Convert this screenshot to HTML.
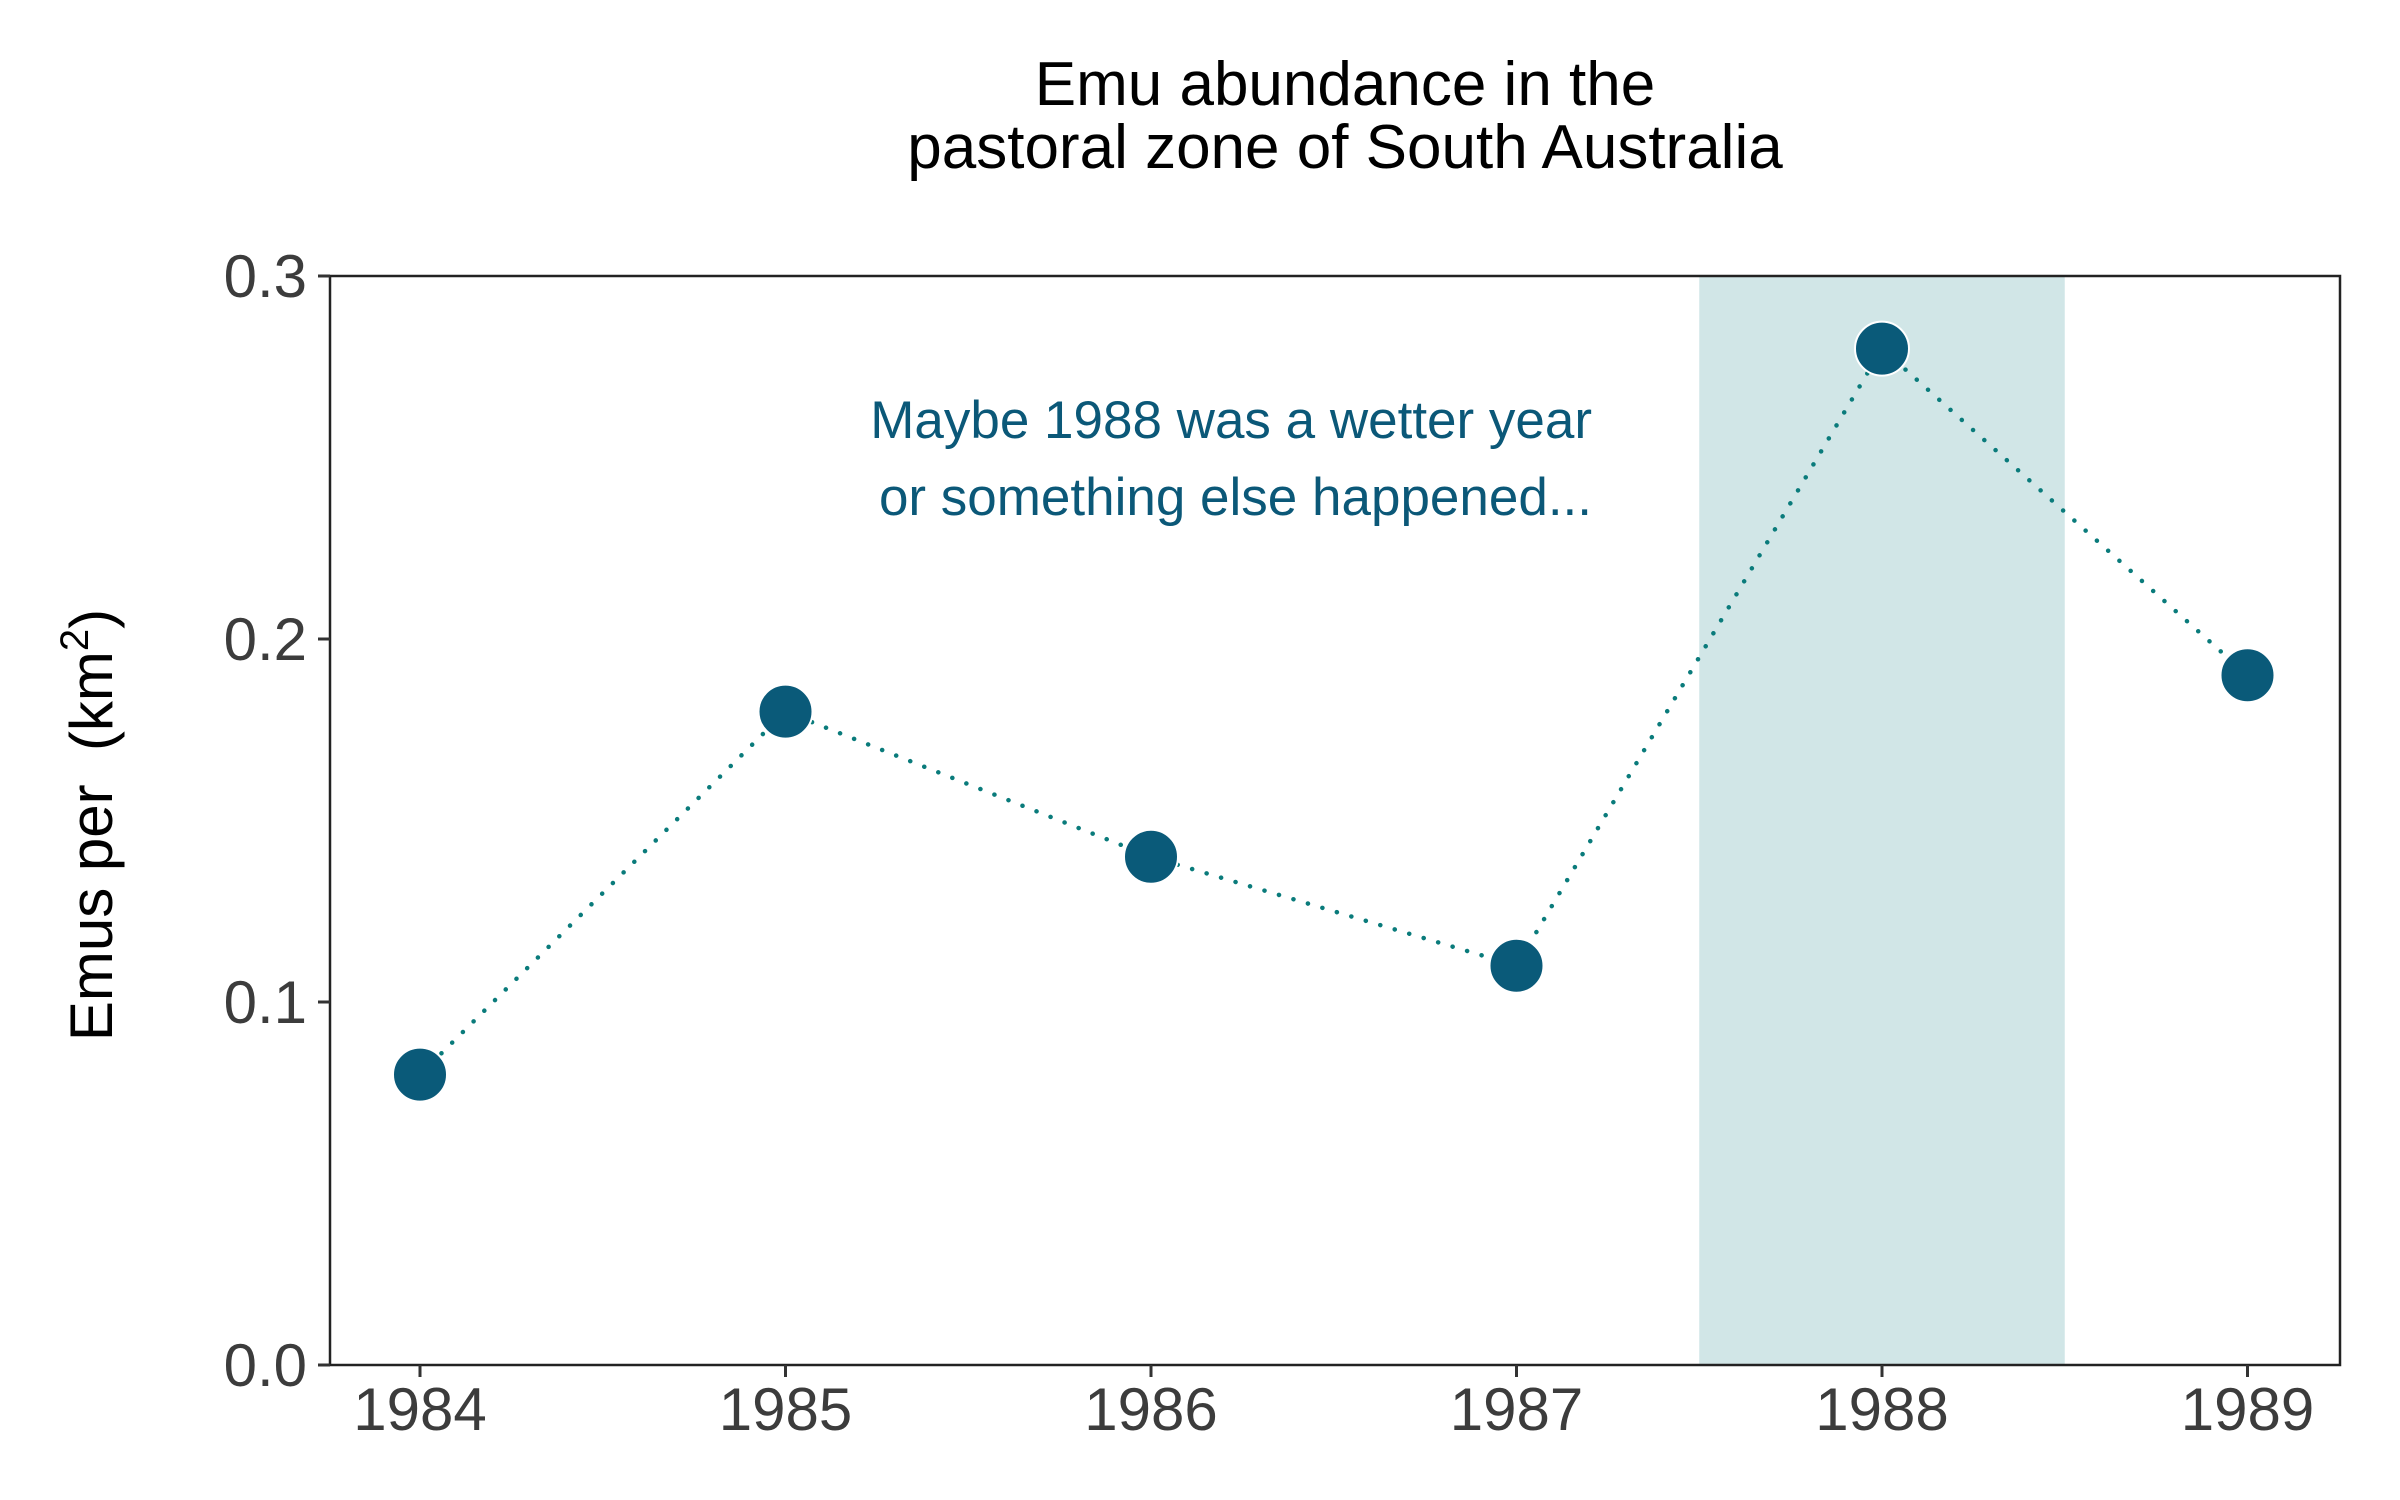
<!DOCTYPE html>
<html><head><meta charset="utf-8"><style>
html,body{margin:0;padding:0;background:#fff;}
svg{display:block;font-family:"Liberation Sans",Arial,sans-serif;}
</style></head><body>
<svg id="chart" width="2400" height="1500" viewBox="0 0 2400 1500" xmlns="http://www.w3.org/2000/svg">
<rect width="2400" height="1500" fill="#fff"/>
<g id="title" font-size="62" fill="#000" text-anchor="middle">
<text x="1345" y="105">Emu abundance in the</text>
<text x="1345" y="168">pastoral zone of South Australia</text>
</g>
<g id="plot"></g>
<text transform="translate(112,825) rotate(-90)" text-anchor="middle" font-size="60" fill="#000">Emus per&#160;&#160;(km<tspan font-size="40" dy="-24">2</tspan><tspan dy="24">)</tspan></text>
<g font-size="53" fill="#0b5878" text-anchor="end">
<text x="1592" y="438">Maybe 1988 was a wetter year</text>
<text x="1592" y="515">or something else happened...</text>
</g>
</svg>
<script>
const years = [1984, 1985, 1986, 1987, 1988, 1989];
const emuDensity = [0.08, 0.18, 0.14, 0.11, 0.28, 0.19];
const yTicks = [0.0, 0.1, 0.2, 0.3];
const yTickLabels = ["0.0", "0.1", "0.2", "0.3"];
const highlightRange = [1987.5, 1988.5];

const NS = "http://www.w3.org/2000/svg";
const L = 330, R = 2340, T = 276, B = 1365;
const x = v => 420 + (v - 1984) * 365.5;
const y = v => B - (v / 0.3) * (B - T);
const plot = document.getElementById('plot');
function mk(tag, attrs, parent) {
  const e = document.createElementNS(NS, tag);
  for (const k in attrs) e.setAttribute(k, attrs[k]);
  (parent || plot).appendChild(e);
  return e;
}
const band = mk('rect', {x: x(highlightRange[0]), y: T, width: x(highlightRange[1]) - x(highlightRange[0]), height: B - T, fill: '#d1e6e7'});



const frame = mk('rect', {x: L, y: T, width: R - L, height: B - T, fill: 'none', stroke: '#222', 'stroke-width': 2.5});



yTicks.forEach((t, i) => {
  const tk = mk('line', {x1: L - 12, x2: L, y1: y(t), y2: y(t), stroke: '#333', 'stroke-width': 3});
  
  
  const lb = mk('text', {x: 307, y: y(t) + 21, 'text-anchor': 'end', 'font-size': 60, fill: '#3c3c3c'});
  lb.textContent = yTickLabels[i];
  
  
});
years.forEach(yr => {
  const tk = mk('line', {x1: x(yr), x2: x(yr), y1: B, y2: B + 12, stroke: '#333', 'stroke-width': 3});
  
  
  const lb = mk('text', {x: x(yr), y: 1430, 'text-anchor': 'middle', 'font-size': 60, fill: '#3c3c3c'});
  lb.textContent = String(yr);
  
  
});
const pts = years.map((yr, i) => x(yr) + ',' + y(emuDensity[i])).join(' ');
const line = mk('polyline', {points: pts, fill: 'none', stroke: '#0a7b7b', 'stroke-width': 4.5, 'stroke-dasharray': '0.1 15', 'stroke-linecap': 'round'});


years.forEach((yr, i) => {
  const c = mk('circle', {cx: x(yr), cy: y(emuDensity[i]), r: 27, fill: '#0a5a79', stroke: '#fff', 'stroke-width': 2});
  
  
});
</script>
</body></html>
